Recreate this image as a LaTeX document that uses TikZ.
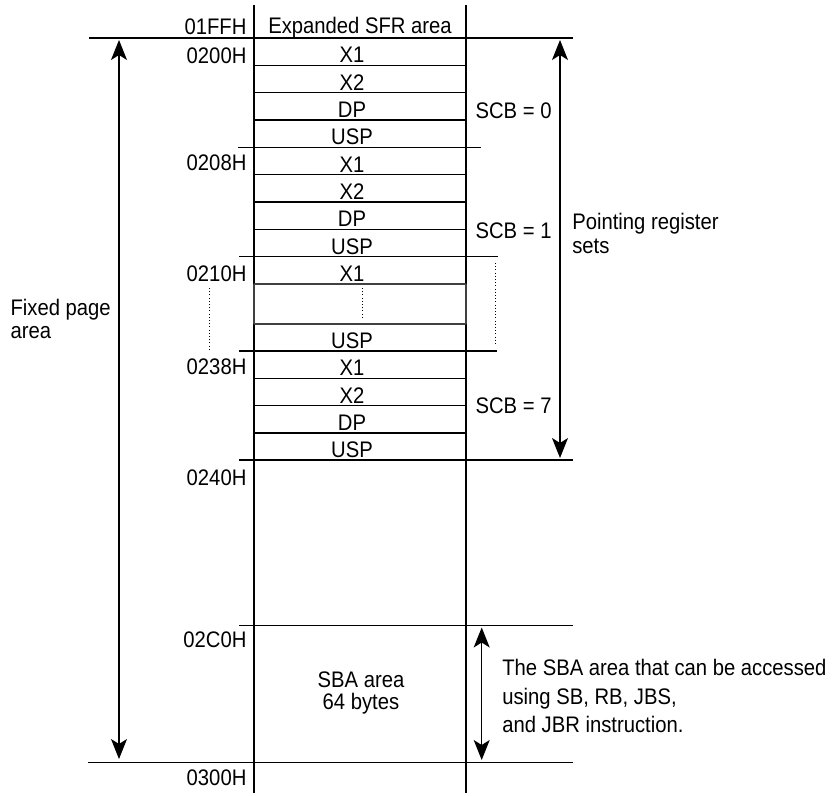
\documentclass[tikz,border=0pt]{standalone}
\usepackage{fontspec}
\setmainfont[FakeStretch=0.9]{Liberation Sans}
\usetikzlibrary{arrows.meta}
\begin{document}
\begin{tikzpicture}[x=1pt,y=-1pt,line width=1.2pt,
  lbl/.style={inner sep=0pt,font=\fontsize{22.5}{26}\selectfont},
  addr/.style={lbl,anchor=base east},
  reg/.style={lbl,anchor=base},
  side/.style={lbl,anchor=base west},
  dimarrow/.style={{Stealth[length=20pt,width=16pt,inset=5pt]}-{Stealth[length=20pt,width=16pt,inset=5pt]},line width=1.2pt},
  dots/.style={line width=1pt,dash pattern=on 1pt off 2.2pt},
  faint/.style={draw=black!75}]
\useasboundingbox (0,0) rectangle (835,795);

% column walls
\coordinate (cLt) at (254,5);   \coordinate (cLm1) at (254,284);
\coordinate (cLm2) at (254,324); \coordinate (cLb) at (254,793);
\coordinate (cRt) at (466,5);   \coordinate (cRm1) at (466,284);
\coordinate (cRm2) at (466,324); \coordinate (cRb) at (466,793);
\draw (cLt) -- (cLm1); \draw[faint] (cLm1) -- (cLm2); \draw (cLm2) -- (cLb);
\draw (cRt) -- (cRm1); \draw[faint] (cRm1) -- (cRm2); \draw (cRm2) -- (cRb);

% long boundary lines
\coordinate (h0a) at (89,38);    \coordinate (h0b) at (573,38);
\coordinate (h1a) at (238,147.3); \coordinate (h1b) at (481,147.3);
\coordinate (h2a) at (239,256.7); \coordinate (h2b) at (497.7,256.7);
\coordinate (h3a) at (239,351);  \coordinate (h3b) at (497,351);
\coordinate (h4a) at (239,460);  \coordinate (h4b) at (573,460);
\coordinate (h5a) at (239,625.7); \coordinate (h5b) at (573,625.7);
\coordinate (h6a) at (88,762.3); \coordinate (h6b) at (573,762.3);
\foreach \n in {0,...,6} \draw (h\n a) -- (h\n b);

% inner row lines
\foreach \y in {65.3,92.7,120,174.7,202,229.3,378.3,405.7,433}
  \draw (254,\y) -- (466,\y);
\draw[faint] (254,284) -- (466,284);
\draw[faint] (254,324) -- (466,324);

% register labels
\foreach \t/\b [count=\i] in {X1/65.3,X2/92.7,DP/120,USP/147.3,
                              X1/174.7,X2/202,DP/229.3,USP/256.7,
                              X1/284,USP/351,
                              X1/378.3,X2/405.7,DP/433,USP/460}
  \node[reg] (reg\i) at (352,\b-2.5) {\t};
\node[reg] (sfr) at (360,33.5) {Expanded SFR area};
\node[reg] (sba1) at (361,687.3) {SBA area};
\node[reg] (sba2) at (361,709.3) {64 bytes};

% addresses
\node[addr] (a01ff) at (247,34.3) {01FFH};
\node[addr] (a0200) at (247,63) {0200H};
\node[addr] (a0208) at (247,170.5) {0208H};
\node[addr] (a0210) at (247,281) {0210H};
\node[addr] (a0238) at (247,374.5) {0238H};
\node[addr] (a0240) at (247,485) {0240H};
\node[addr] (a02c0) at (247,647.7) {02C0H};
\node[addr] (a0300) at (247,785.7) {0300H};

% SCB labels
\node[side] (scb0) at (475,118.3) {SCB = 0};
\node[side] (scb1) at (475,238.3) {SCB = 1};
\node[side] (scb7) at (475,413.3) {SCB = 7};

% side texts
\node[side] (pr1) at (571.7,229.3) {Pointing register};
\node[side] (pr2) at (571.7,253.3) {sets};
\node[side] (fp1) at (10,315.7) {Fixed page};
\node[side] (fp2) at (10,338.3) {area};
\node[side] (sb1) at (501.7,675) {The SBA area that can be accessed};
\node[side] (sb2) at (501.7,704) {using SB, RB, JBS,};
\node[side] (sb3) at (501.7,732.3) {and JBR instruction.};

% dimension arrows
\coordinate (fpT) at (119,40);  \coordinate (fpB) at (119,759);
\coordinate (prT) at (560,40);  \coordinate (prB) at (560,458);
\coordinate (sbT) at (481.7,627.5); \coordinate (sbB) at (481.7,760);
\draw[dimarrow] (fpT) -- (fpB);
\draw[dimarrow] (prT) -- (prB);
\draw[dimarrow] (sbT) -- (sbB);

% dotted continuation marks
\coordinate (d1a) at (209,288);   \coordinate (d1b) at (209,350);
\coordinate (d2a) at (362.7,288); \coordinate (d2b) at (362.7,318);
\coordinate (d3a) at (495,263);   \coordinate (d3b) at (495,344);
\draw[dots] (d1a) -- (d1b);
\draw[dots] (d2a) -- (d2b);
\draw[dots] (d3a) -- (d3b);
\end{tikzpicture}
\end{document}
